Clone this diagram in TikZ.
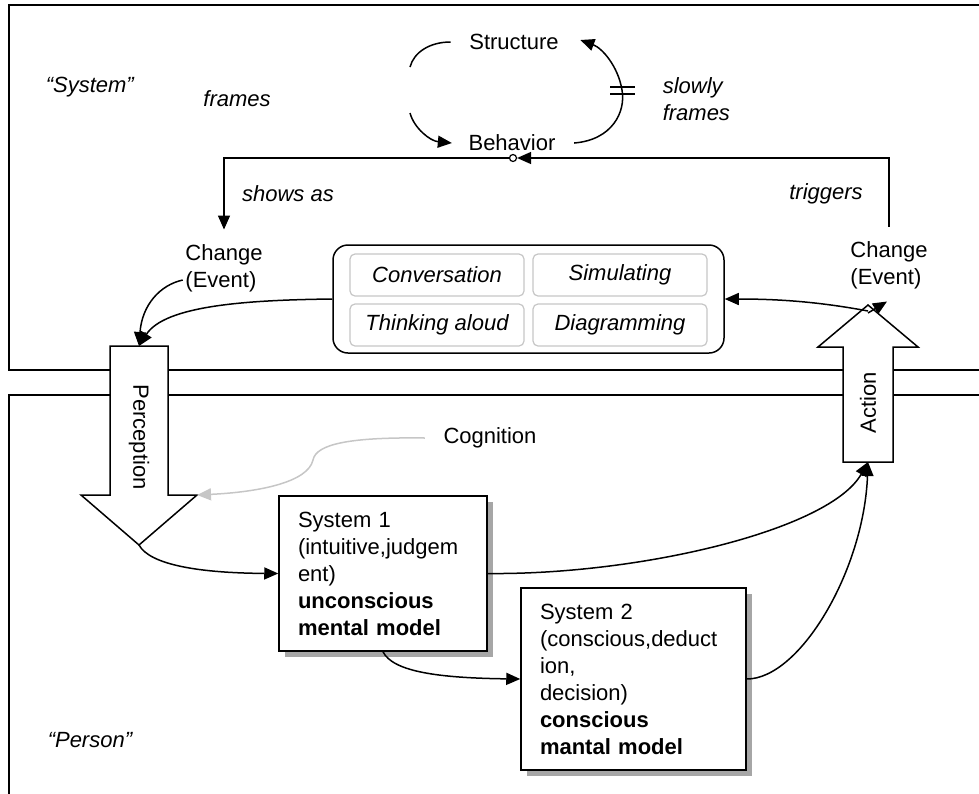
\documentclass[tikz,border=0pt]{standalone}
\usepackage{fontspec}
\setmainfont{Liberation Sans}
\usetikzlibrary{arrows.meta,shadows}
\newcommand{\txtsize}{\fontsize{22}{27}\selectfont}
\tikzstyle{lbl}=[font=\txtsize, inner sep=2pt]
\tikzstyle{ilbl}=[font=\txtsize\itshape, inner sep=2pt]
\tikzstyle{method}=[draw=gray!45, rounded corners=5pt, line width=1.2pt, minimum width=174pt, minimum height=42pt, font=\txtsize\itshape]
\tikzstyle{mindbox}=[draw, fill=white, align=left, font=\txtsize, drop shadow={shadow xshift=6pt, shadow yshift=-6pt, fill=gray!70, opacity=1}]
\tikzstyle{cog}=[draw=gray!45, -{Triangle[length=14pt,width=12pt,fill=gray!45]}]

\begin{document}
\begin{tikzpicture}[x=1pt, y=-1pt, line width=1.5pt, >={Triangle[length=14pt,width=12pt]}]
    \useasboundingbox (0,0) rectangle (979,793);
    % the two frames
    \begin{scope}
        \clip (0,0) rectangle (979,793);
        \draw (9,5) rectangle (1000,370);
        \draw (9,395) rectangle (1000,820);
    \end{scope}
    \node[ilbl, anchor=west] (syslbl) at (43,87) {“System”};
    \node[ilbl, anchor=west] (perslbl) at (45,740) {“Person”};

    % structure / behavior loop
    \node[lbl] (struct) at (514,42) {Structure};
    \node[lbl] (behav) at (512,143) {Behavior};
    \node[ilbl] (frl) at (237,99) {frames};
    \node[ilbl, anchor=west, align=left] (slow) at (660,99) {slowly\\frames};
    \coordinate (la1) at (410,67);
    \coordinate (la2) at (410,113);
    \draw ([xshift=-16pt]struct.west) .. controls (430,42) and (414,52) .. (la1);
    \draw[->] (la2) .. controls (414,128) and (430,141) .. ([xshift=-14pt]behav.west);
    \draw[->] ([xshift=16pt]behav.east) .. controls (612,140) and (626,112) .. (622,90)
        .. controls (618,66) and (602,48) .. ([xshift=19pt,yshift=2pt]struct.east);
    \draw (610,87) -- (635,87) (610,94) -- (635,94);

    % changes
    \node[circle, draw, fill=white, inner sep=0pt, minimum size=7pt, line width=1.2pt] (junc) at (513,158) {};
    \node[lbl, align=left] (chgL) at (224,268) {Change\\(Event)};
    \node[lbl, align=left] (chgR) at (889,265) {Change\\(Event)};
    \node[ilbl] (shows) at (288,194) {shows as};
    \node[ilbl] (trig) at (826,194) {triggers};
    \draw[->] ([yshift=12pt]chgR.north) |- (junc.east);
    \draw[->] (junc.west) -| ([yshift=12pt]chgL.north);

    % methods
    \node[draw, rounded corners=15pt, minimum width=391pt, minimum height=108pt] (act) at (528.5,299) {};
    \node[method] (conv) at (437,275) {Conversation};
    \node[method] (simu) at (620,275) {Simulating};
    \node[method] (think) at (437,325) {Thinking aloud};
    \node[method] (diag) at (620,325) {Diagramming};

    % perception and action
    \draw[fill=white] (110,346) -- (168,346) -- (168,495) -- (197,495) -- (139,545) -- (81,495) -- (110,495) -- cycle;
    \coordinate (pertop) at (139,346);
    \coordinate (pertip) at (139,545);
    \coordinate (perwing) at (197,495);
    \node[lbl, rotate=-90] (perc) at (139,437) {Perception};
    \draw[fill=white] (843,462) -- (893,462) -- (893,347) -- (918,347) -- (868,305) -- (818,347) -- (843,347) -- cycle;
    \coordinate (actbot) at (868,462);
    \coordinate (acttip) at (868,305);
    \node[lbl, rotate=90] (actlbl) at (868,403) {Action};

    \node[lbl] (cogn) at (490,438) {Cognition};
    \draw[cog] ([xshift=-16pt]cogn.west) .. controls (350,437) and (316,444) .. (313,460)
        .. controls (308,482) and (260,492) .. (perwing);

    % the two systems
    \node[mindbox, minimum width=208pt, minimum height=155pt, text width=170pt] (sysone) at (383,573.5)
        {System 1\\(intuitive,judgem\\ent)\\\textbf{unconscious}\\\textbf{mental model}};
    \node[mindbox, minimum width=225pt, minimum height=182pt, text width=187pt] (systwo) at (633.5,679)
        {System 2\\(conscious,deduct\\ion,\\decision)\\\textbf{conscious}\\\textbf{mantal model}};

    \draw[->] ([yshift=-12pt]chgL.west) .. controls (160,285) and (142,305) .. (pertop);
    \draw[->] (act.west) .. controls (250,300) and (165,305) .. (pertop);
    \draw[->] (pertip) .. controls (150,565) and (200,573) .. (sysone.west);
    \draw[->] (sysone.south) .. controls (393,672) and (440,678) .. (systwo.west);
    \draw[->] (sysone.east) .. controls (640,575) and (830,530) .. (actbot);
    \draw[->] (systwo.east) .. controls (800,679) and (864,570) .. (actbot);
    \draw[->] ([yshift=-8pt]acttip) -- ([xshift=-2pt,yshift=-10pt]chgR.south);
    \draw[->] ([yshift=-6pt]acttip) .. controls (820,302) and (780,299) .. (act.east);
\end{tikzpicture}
\end{document}
